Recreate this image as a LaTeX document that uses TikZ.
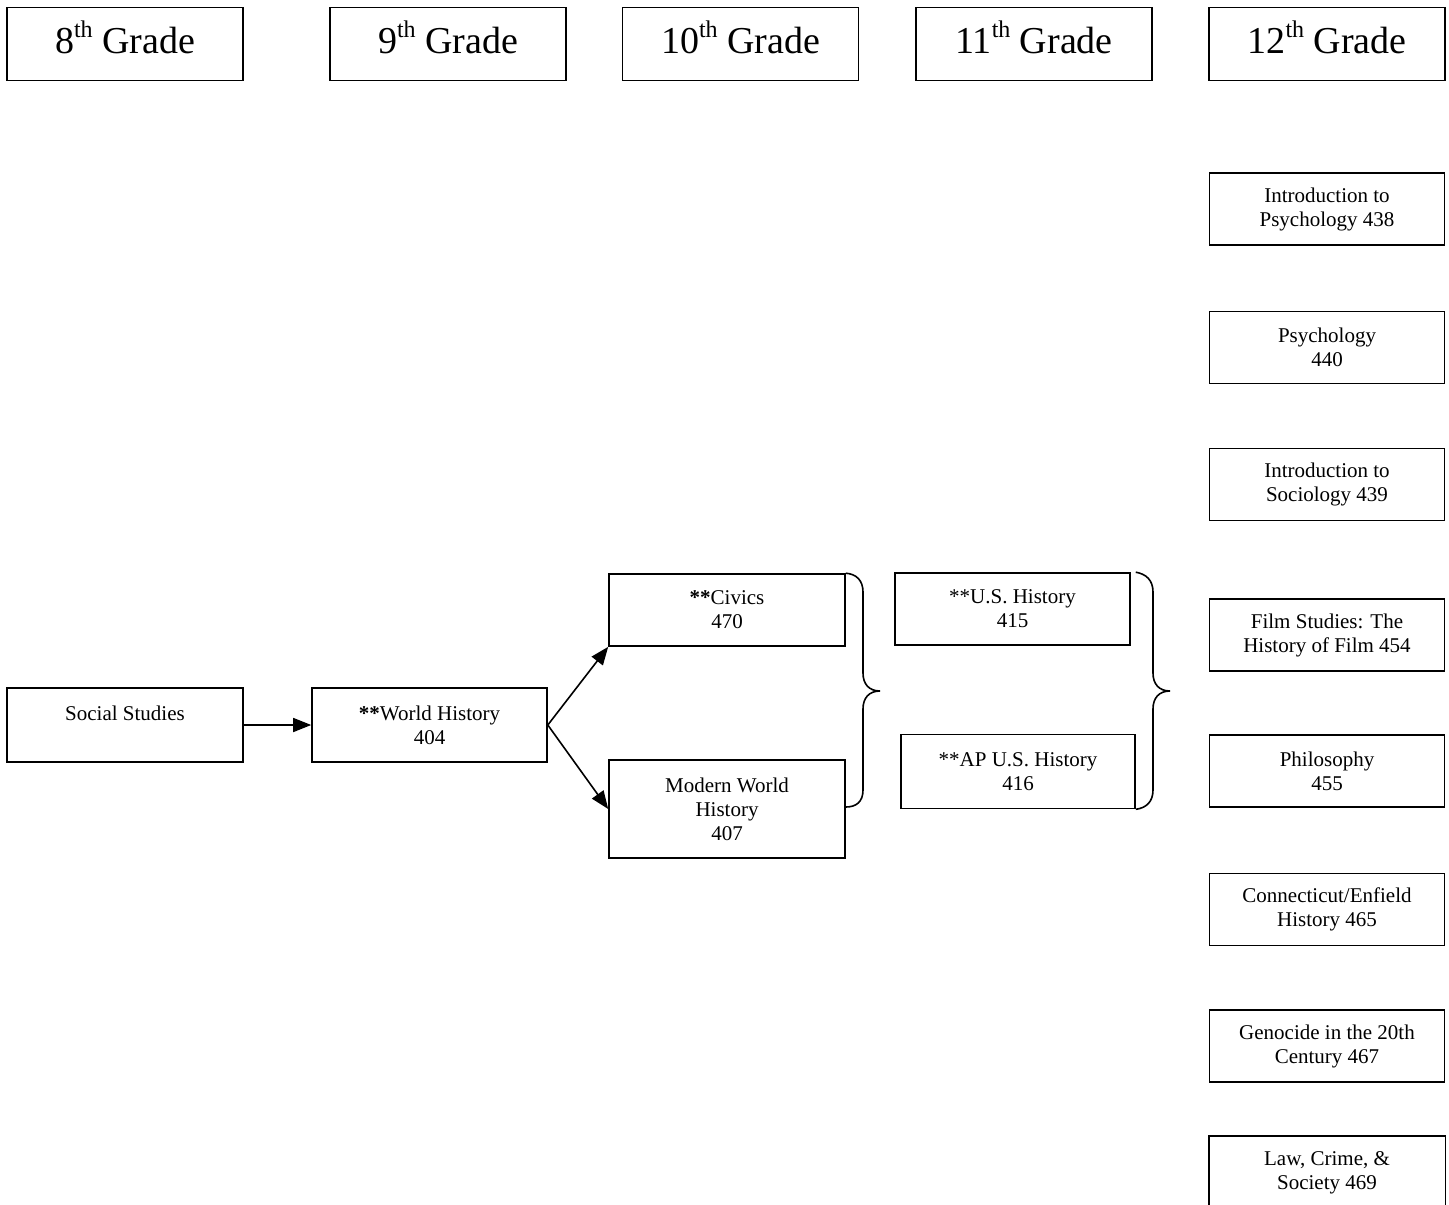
\documentclass[tikz,border=0pt]{standalone}
\usepackage{fontspec}
\setmainfont{Liberation Serif}
\usetikzlibrary{arrows.meta}
\newcommand{\ordsup}[1]{\raisebox{0.42em}{\fontsize{24}{24}\selectfont #1}}
\begin{document}
\begin{tikzpicture}[x=1pt,y=-1pt,
  line width=1.6pt,
  grade/.style={draw, rectangle, minimum width=236pt, minimum height=73pt,
    inner sep=0pt, text height=27pt, text depth=9pt,
    font=\fontsize{38}{44}\selectfont},
  course/.style={draw, rectangle, minimum width=235pt, minimum height=72pt,
    inner sep=0pt, align=center, font=\fontsize{21}{24}\selectfont},
  flow/.style={-{Triangle[length=18pt,width=14pt]}},
  brace/.style={line width=1.6pt}]
\useasboundingbox (0,0) rectangle (1449,1205);

% grade headers
\node[grade] (g8)  at (125,44)    {8\ordsup{th} Grade};
\node[grade] (g9)  at (448,44)    {9\ordsup{th} Grade};
\node[grade] (g10) at (740.5,44)  {10\ordsup{th} Grade};
\node[grade] (g11) at (1034,44)   {11\ordsup{th} Grade};
\node[grade] (g12) at (1327,44)   {12\ordsup{th} Grade};

% core sequence
\node[course, minimum width=236pt, minimum height=74pt] (soc) at (125,725) {Social Studies\\\mbox{}};
\node[course, minimum height=74pt] (wh) at (429.5,725) {\textbf{**}World History\\404};
\node[course, minimum width=236pt] (civ) at (727,610) {\textbf{**}Civics\\470};
\node[course, minimum width=236pt, minimum height=98pt] (mwh) at (727,809) {Modern World\\History\\407};
\node[course] (ush) at (1012.5,609) {**U.S. History\\415};
\node[course, minimum width=234pt, minimum height=74pt] (apush) at (1018,771.5) {**AP U.S. History\\416};

% 12th grade electives
\begin{scope}[every node/.append style={minimum width=234pt}]
\node[course] (psy438) at (1327,209)   {Introduction to\\Psychology 438};
\node[course] (psy440) at (1327,347.5) {Psychology\\440};
\node[course] (soc439) at (1327,484.5) {Introduction to\\Sociology 439};
\node[course] (film)   at (1327,635)   {Film Studies: The\\History of Film 454};
\node[course] (phil)   at (1327,771)   {Philosophy\\455};
\node[course] (ct)     at (1327,909.5) {Connecticut/Enfield\\History 465};
\node[course] (geno)   at (1327,1046)  {Genocide in the 20th\\Century 467};
\node[course, draw=none] (law) at (1327,1173) {Law, Crime, \&\\Society 469};
\end{scope}
\draw (law.north west |- 0,1205) -- (law.north west) -- (law.north east) -- (law.north east |- 0,1205);

% arrows
\draw[flow] (soc.east) -- (wh.west);
\draw[flow] (wh.east) -- (civ.south west);
\draw[flow] (wh.east) -- (mwh.west);

% braces
\draw[brace] (civ.north east) .. controls (856,574) and (863,580) .. (863,592)
  -- (863,673) .. controls (863,684) and (869,691) .. (880,691)
  .. controls (869,691) and (863,698) .. (863,709)
  -- (863,790) .. controls (863,802) and (856,807) .. (mwh.east |- 0,807);
\draw[brace] (apush.east |- ush.north) .. controls (1146,574) and (1153,580) .. (1153,592)
  -- (1153,673) .. controls (1153,684) and (1159,691) .. (1170,691)
  .. controls (1159,691) and (1153,698) .. (1153,709)
  -- (1153,790) .. controls (1153,802) and (1146,808) .. (apush.south east);
\end{tikzpicture}
\end{document}
